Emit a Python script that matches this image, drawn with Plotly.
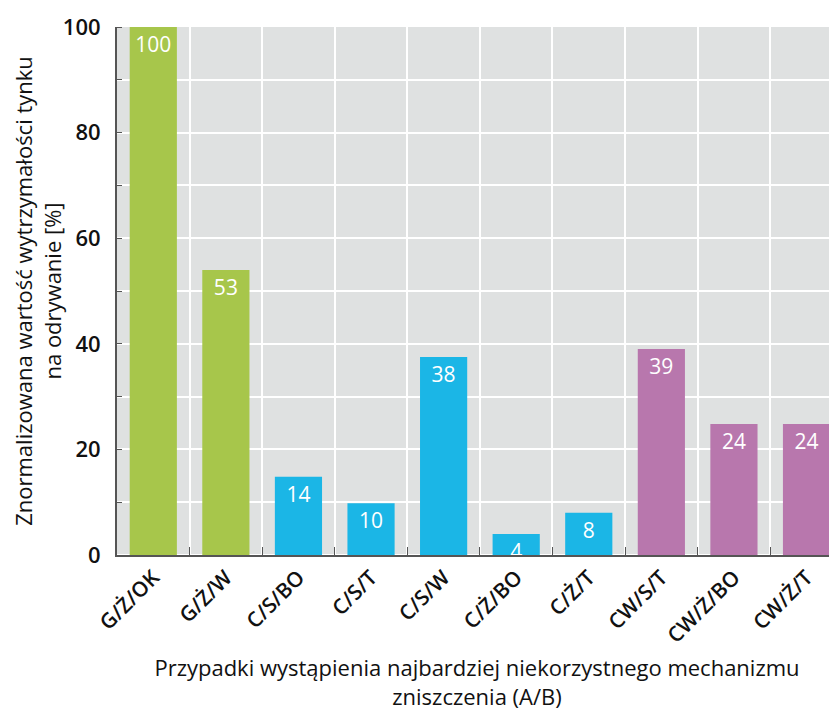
"""Normalised render adhesion strength by failure mechanism."""
import plotly.graph_objects as go

categories = ["G/Ż/OK", "G/Ż/W", "C/S/BO", "C/S/T", "C/S/W",
              "C/Ż/BO", "C/Ż/T", "CW/S/T", "CW/Ż/BO", "CW/Ż/T"]
heights = [100, 54, 14.8, 9.8, 37.5, 4, 8, 39, 24.8, 24.8]
labels = ["100", "53", "14", "10", "38", "4", "8", "39", "24", "24"]
groups = ["G", "G", "C", "C", "C", "C", "C", "CW", "CW", "CW"]

group_colors = {"G": "#a7c64b", "C": "#1bb6e6", "CW": "#b877ad"}

fig = go.Figure()
fig.add_trace(
    go.Bar(
        x=categories,
        y=heights,
        text=labels,
        textposition="inside",
        insidetextanchor="end",
        textangle=0,
        constraintext="none",
        textfont={"color": "white", "size": 21, "family": "Open Sans"},
        marker={"color": [group_colors[g] for g in groups], "line": {"width": 0}},
        width=0.65,
        showlegend=False,
    )
)

# the page body adds an 8 px margin, so the figure is a little smaller than the window
fig.update_layout(
    width=829,
    height=703,
    margin={"l": 109, "r": 0, "t": 19, "b": 156},
    plot_bgcolor="#dfe1e1",
    paper_bgcolor="#ffffff",
    font={"family": "Open Sans", "color": "#111111"},
)
fig.update_xaxes(
    automargin=False,
    range=[-0.5, 9.42],
    tickson="boundaries",
    ticks="inside",
    ticklen=8,
    tickcolor="#555555",
    showgrid=True,
    gridcolor="#ffffff",
    gridwidth=1.5,
    showline=True,
    linecolor="#555555",
    linewidth=2,
    tickangle=-45,
    tickfont={"size": 21, "color": "#111111", "weight": 600},
    title={
        "text": "Przypadki wystąpienia najbardziej niekorzystnego mechanizmu<br>zniszczenia (A/B)",
        "font": {"size": 22},
        "standoff": 20,
    },
)
fig.update_yaxes(
    automargin=False,
    range=[0, 100],
    tickvals=[0, 20, 40, 60, 80, 100],
    ticks="",
    ticklabelstandoff=10,
    showgrid=False,
    showline=True,
    linecolor="#555555",
    linewidth=2,
    tickfont={"size": 22, "color": "#111111", "weight": 600},
    title={
        "text": "Znormalizowana wartość wytrzymałości tynku<br>na odrywanie [%]",
        "font": {"size": 22},
        "standoff": 12,
    },
    minor={"tickvals": list(range(10, 101, 10)), "showgrid": True, "gridcolor": "#ffffff",
           "gridwidth": 1.5, "ticks": "inside", "ticklen": 5, "tickcolor": "#555555"},
)

fig.write_html("out.html")
